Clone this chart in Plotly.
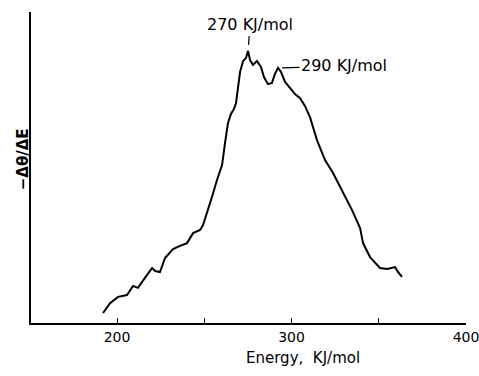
import plotly.graph_objects as go

# Energy (KJ/mol) and -dθ/dE (arbitrary units, axis spans 0..100)
energy = [192.0, 196.0, 200.6, 205.7, 209.2, 212.0, 216.0, 220.1, 221.8, 224.6,
          227.5, 232.1, 236.1, 240.1, 243.6, 247.6, 249.3, 251.6, 254.4, 257.3,
          260.2, 261.9, 263.6, 265.3, 267.0, 268.2, 269.3, 270.5, 272.2, 273.9,
          275.1, 276.2, 277.9, 280.2, 282.5, 284.2, 286.5, 288.8, 290.5, 292.3,
          294.0, 296.3, 299.1, 302.0, 304.9, 307.7, 310.6, 312.3, 314.6, 316.9,
          319.2, 323.8, 329.5, 334.7, 339.3, 341.0, 345.0, 350.7, 354.7, 359.3,
          361.0, 363.3]
signal = [3.2, 6.4, 8.4, 9.0, 11.9, 11.3, 14.5, 17.7, 16.7, 16.4,
          20.9, 23.8, 24.8, 25.7, 28.9, 29.9, 31.5, 35.4, 40.5, 46.0,
          50.8, 57.9, 64.3, 67.2, 68.8, 70.7, 75.6, 80.7, 84.2, 85.2,
          87.5, 84.6, 83.0, 84.2, 82.3, 79.1, 76.8, 77.2, 80.1, 82.0,
          80.7, 77.5, 75.6, 73.6, 72.3, 69.8, 66.2, 63.0, 58.8, 55.6,
          52.4, 48.2, 41.8, 36.3, 30.5, 25.7, 21.2, 17.7, 17.4, 18.0,
          16.4, 14.8]

tick_vals = [200, 250, 300, 350, 400]
tick_text = ["200", "", "300", "", "400"]

peak_labels = ["270 KJ/mol", "290 KJ/mol"]
peak_idx = [energy.index(275.1), energy.index(292.3)]

FONT = "DejaVu Sans, Liberation Sans, sans-serif"

fig = go.Figure()
fig.add_trace(go.Scatter(x=energy, y=signal, mode="lines",
                         line=dict(color="black", width=2), showlegend=False,
                         hoverinfo="skip"))

fig.add_annotation(x=energy[peak_idx[0]], y=signal[peak_idx[0]], text=peak_labels[0],
                   showarrow=True, arrowhead=0, arrowwidth=1.2, arrowcolor="black",
                   ax=2, ay=-26, standoff=6,
                   font=dict(family=FONT, size=16, color="black"))
fig.add_annotation(x=energy[peak_idx[1]], y=signal[peak_idx[1]], text=peak_labels[1],
                   showarrow=True, arrowhead=0, arrowwidth=1.2, arrowcolor="black",
                   ax=66, ay=-2, standoff=4,
                   font=dict(family=FONT, size=16, color="black"))

fig.add_annotation(xref="paper", yref="paper", x=0.625, y=-0.113,
                   xanchor="center", yanchor="middle", showarrow=False,
                   text="Energy,  KJ/mol",
                   font=dict(family=FONT, size=15, color="black"))

fig.add_annotation(xref="paper", yref="paper", x=-0.018, y=0.527,
                   xanchor="center", yanchor="middle", showarrow=False,
                   textangle=-90, text="<b>−Δθ/ΔE</b>",
                   font=dict(family=FONT, size=15, color="black"))

fig.update_layout(
    width=479, height=376,
    margin=dict(l=31, r=13, t=12, b=53),
    paper_bgcolor="white", plot_bgcolor="white",
    font=dict(family=FONT, size=14, color="black"),
    xaxis=dict(range=[150.7, 400], showgrid=False, zeroline=False, automargin=False,
               showline=True, linecolor="black", linewidth=1.5,
               ticks="inside", ticklen=5, tickwidth=1.2, tickcolor="black",
               tickvals=tick_vals, ticktext=tick_text,
               ticklabeloverflow="allow",
               tickfont=dict(family=FONT, size=14, color="black")),
    yaxis=dict(range=[0, 100], showgrid=False, zeroline=False, automargin=False,
               showline=True, linecolor="black", linewidth=1.5,
               showticklabels=False, ticks=""),
)

fig.write_html("out.html")
